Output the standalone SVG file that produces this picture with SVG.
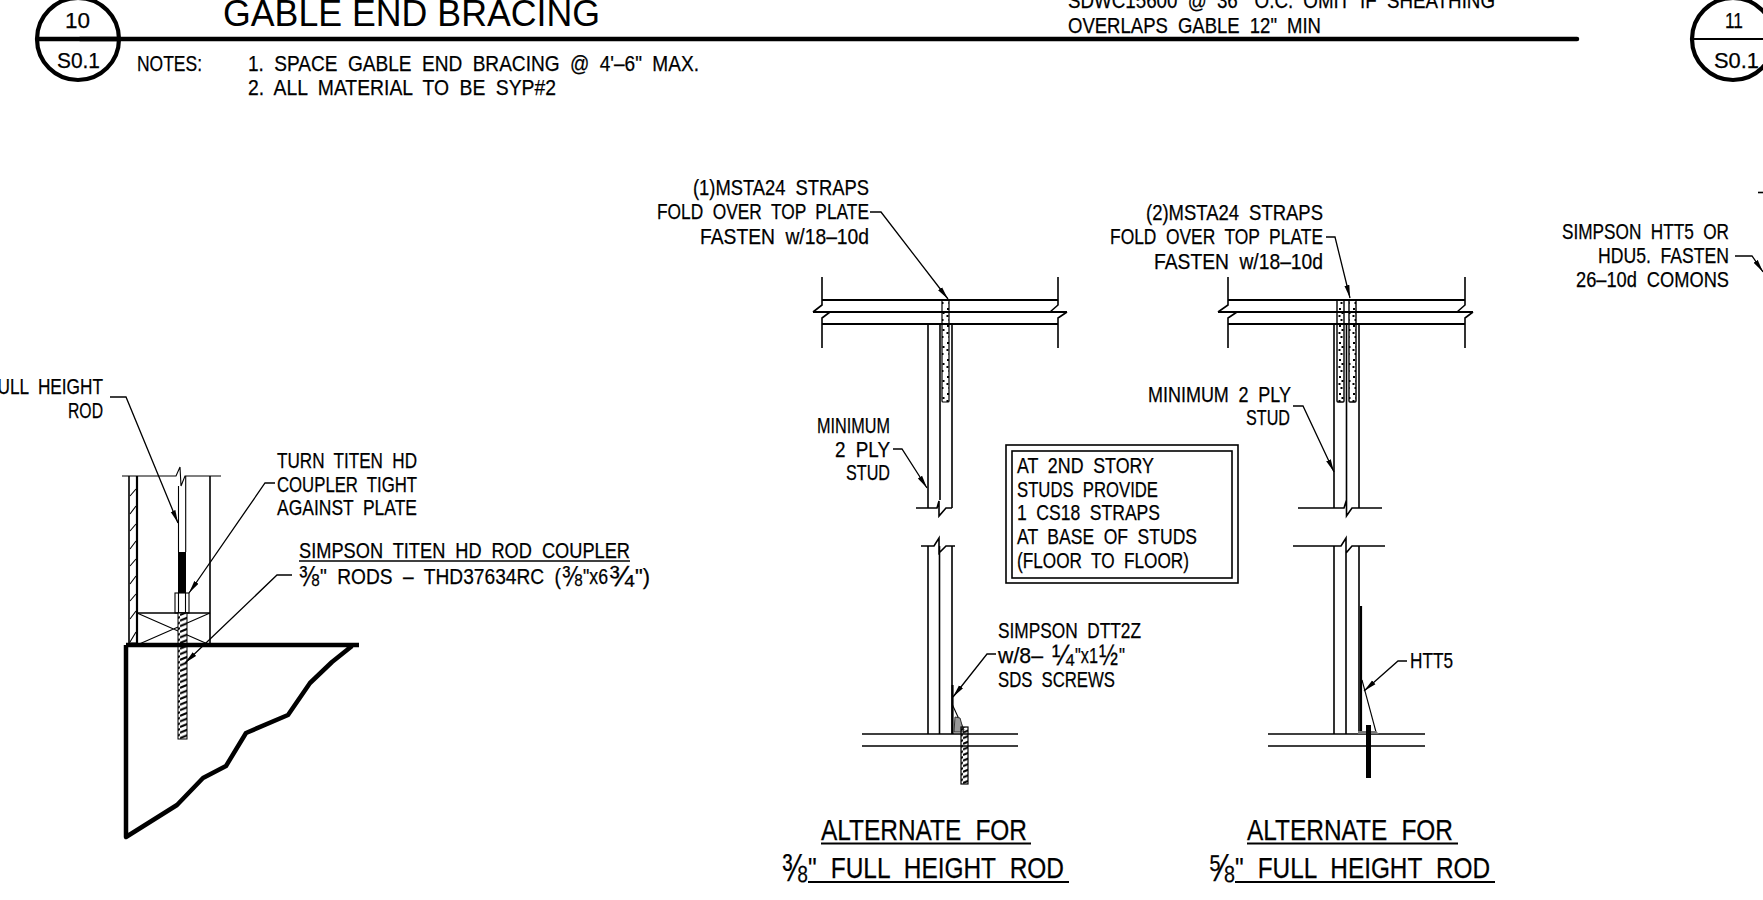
<svg xmlns="http://www.w3.org/2000/svg" width="1763" height="900" viewBox="0 0 1763 900">
<style>
text{font-family:"Liberation Sans",Arial,sans-serif;fill:#000;stroke:#000;stroke-width:.25;word-spacing:6px}
.t{font-size:22.5px}
.b{font-size:30px;word-spacing:9px}
.h{font-size:37px;word-spacing:0;stroke-width:0}
.f{font-size:29px}
.g{font-size:38px}
.l{fill:none;stroke:#000;stroke-width:1.6}
.n{fill:none;stroke:#000;stroke-width:1.1}
.m{fill:none;stroke:#000;stroke-width:2.2}
.k{fill:none;stroke:#000;stroke-width:4.2}
.x{fill:none;stroke:#000;stroke-width:4.5}
.a{fill:none;stroke:#000;stroke-width:1.3;marker-end:url(#ah)}
</style>
<defs>
<marker id="ah" markerUnits="userSpaceOnUse" markerWidth="15" markerHeight="7" refX="13" refY="3" orient="auto"><path d="M0 0.500 L13 3 L0 5.500Z" fill="#000"/></marker>
<pattern id="th" width="9" height="5.6" patternUnits="userSpaceOnUse"><path d="M0 4.6 L9 1" stroke="#000" stroke-width="2" fill="none"/></pattern>
<pattern id="dots" width="7" height="17" patternUnits="userSpaceOnUse"><rect x="2" y="2" width="2" height="2" fill="#000"/><rect x="4.5" y="6" width="2" height="2" fill="#000"/><rect x="1.5" y="9" width="2" height="2" fill="#000"/><rect x="3.5" y="13" width="2" height="2" fill="#000"/></pattern>
</defs>
<rect width="1763" height="900" fill="#fff"/>

<g id="title-bar">
<path class="x" d="M80 39 H1577" stroke-linecap="round"/>
<text class="h" x="223" y="26" textLength="377" lengthAdjust="spacingAndGlyphs">GABLE END BRACING</text>
<text class="t" x="1068" y="8" textLength="427" lengthAdjust="spacingAndGlyphs">SDWC15600 @ 36" O.C. OMIT IF SHEATHING</text>
<text class="t" x="1068" y="33" textLength="253" lengthAdjust="spacingAndGlyphs">OVERLAPS GABLE 12" MIN</text>
</g>
<g id="marker-10">
<circle class="k" cx="78" cy="39" r="41"/>
<path class="x" d="M37 39 H119"/>
<text class="t" x="65" y="28" textLength="25" lengthAdjust="spacingAndGlyphs">10</text>
<text class="t" x="57" y="68" textLength="43" lengthAdjust="spacingAndGlyphs">S0.1</text>
</g>
<g id="marker-11">
<circle class="k" cx="1733" cy="39" r="41"/>
<path class="m" d="M1692 39 H1763"/>
<text class="t" x="1725" y="28" textLength="18" lengthAdjust="spacingAndGlyphs">11</text>
<text class="t" x="1714" y="68" textLength="45" lengthAdjust="spacingAndGlyphs">S0.1</text>
</g>
<g id="notes">
<text class="t" x="137" y="71" textLength="65" lengthAdjust="spacingAndGlyphs">NOTES:</text>
<text class="t" x="248" y="71" textLength="451" lengthAdjust="spacingAndGlyphs">1. SPACE GABLE END BRACING @ 4'–6" MAX.</text>
<text class="t" x="248" y="95" textLength="308" lengthAdjust="spacingAndGlyphs">2. ALL MATERIAL TO BE SYP#2</text>
</g>

<g id="rod-detail">
<path class="n" d="M122 476 H176 L180 467 L181 486 L185 476 H221"/>
<path class="l" d="M129 476 V643 M210 476 V645"/>
<path class="m" d="M137 476 V645"/>
<path class="n" d="M129 643 H137 M130 496 L136 489 M130 514 L136 506 M130 531 L136 524 M130 549 L136 541 M130 566 L136 559 M130 584 L136 576 M130 601 L136 594 M130 619 L136 611 M130 642 L136 632"/>
<path class="n" d="M178.500 486 V552 M185.700 476 V552"/>
<rect x="178" y="552" width="8" height="41" fill="#000"/>
<rect class="n" x="175" y="593" width="14" height="20" fill="none"/>
<path class="n" d="M178.500 593 V613 M185.500 593 V613"/>
<path class="l" d="M137 613 H210"/>
<path class="n" d="M137 613 L210 645 M137 645 L210 613"/>
<rect x="178" y="613" width="9" height="126" fill="#fff"/>
<rect x="178" y="613" width="9" height="126" fill="url(#th)" stroke="#000" stroke-width="1"/>
<path class="x" d="M126 645 H359 M352 646 L332 662 L310 683 L288 715 L246 733 L226 766 L203 778 L177 805 L126 837 V645" stroke-linejoin="round"/>
<text class="t" x="-13" y="394" textLength="116" lengthAdjust="spacingAndGlyphs">FULL HEIGHT</text>
<text class="t" x="68" y="418" textLength="35" lengthAdjust="spacingAndGlyphs">ROD</text>
<text class="t" x="277" y="468" textLength="140" lengthAdjust="spacingAndGlyphs">TURN TITEN HD</text>
<text class="t" x="277" y="492" textLength="140" lengthAdjust="spacingAndGlyphs">COUPLER TIGHT</text>
<text class="t" x="277" y="515" textLength="140" lengthAdjust="spacingAndGlyphs">AGAINST PLATE</text>
<text class="t" x="299" y="558" textLength="331" lengthAdjust="spacingAndGlyphs">SIMPSON TITEN HD ROD COUPLER</text>
<path class="l" d="M299 561 H630"/>
<text class="f" x="299" y="586" textLength="20" lengthAdjust="spacingAndGlyphs">⅜</text>
<text class="t" x="320" y="584" textLength="241" lengthAdjust="spacingAndGlyphs">" RODS – THD37634RC (</text>
<text class="f" x="562" y="586" textLength="20" lengthAdjust="spacingAndGlyphs">⅜</text>
<text class="t" x="583" y="584" textLength="25" lengthAdjust="spacingAndGlyphs">"x6</text>
<text class="f" x="609" y="586" textLength="25" lengthAdjust="spacingAndGlyphs">¾</text>
<text class="t" x="635" y="584" textLength="15" lengthAdjust="spacingAndGlyphs">")</text>
</g>

<g id="alternate-3-8">
<path class="l" d="M822 277 V305 L813 312 M830 312 L822 318 V348 M1058 277 V305 L1050 312 M1067 312 L1058 318 V348"/>
<path class="m" d="M822 300 H1058 M813 312 H1067 M822 324 H1058"/>
<path class="l" d="M928 324 V508 M940 324 V500 M952 324 V508 M916 508 H928 L937 508 L939 501 V516 L946 508 H952"/>
<rect x="942" y="300" width="7" height="102" fill="url(#dots)" stroke="#000" stroke-width="1.2" rx="1"/>
<text class="t" x="693" y="195" textLength="176" lengthAdjust="spacingAndGlyphs">(1)MSTA24 STRAPS</text>
<text class="t" x="657" y="219" textLength="212" lengthAdjust="spacingAndGlyphs">FOLD OVER TOP PLATE</text>
<text class="t" x="700" y="244" textLength="169" lengthAdjust="spacingAndGlyphs">FASTEN w/18–10d</text>
<text class="t" x="817" y="433" textLength="73" lengthAdjust="spacingAndGlyphs">MINIMUM</text>
<text class="t" x="835" y="457" textLength="55" lengthAdjust="spacingAndGlyphs">2 PLY</text>
<text class="t" x="846" y="480" textLength="44" lengthAdjust="spacingAndGlyphs">STUD</text>
<path class="l" d="M921 546 H934 L939 538 V553 L946 546 H955 M928 546 V734 M939.500 546 V734 M952 546 V734"/>
<path class="l" d="M862 734 H1018 M862 746 H1018"/>
<path class="m" d="M952.500 685 V734"/>
<path class="n" d="M952.500 705 L964 730"/>
<path d="M955 717 L960 718 L964 732 H954Z" fill="#999" stroke="#333" stroke-width="1"/>
<rect x="961" y="727" width="7" height="57" fill="url(#th)" stroke="#000" stroke-width="1.2"/>
<text class="t" x="998" y="638" textLength="143" lengthAdjust="spacingAndGlyphs">SIMPSON DTT2Z</text>
<text class="t" x="998" y="663" textLength="45" lengthAdjust="spacingAndGlyphs">w/8–</text>
<text class="f" x="1052" y="665" textLength="22" lengthAdjust="spacingAndGlyphs">¼</text>
<text class="t" x="1075" y="663" textLength="23" lengthAdjust="spacingAndGlyphs">"x1</text>
<text class="f" x="1099" y="665" textLength="19" lengthAdjust="spacingAndGlyphs">½</text>
<text class="t" x="1119" y="663" textLength="6" lengthAdjust="spacingAndGlyphs">"</text>
<text class="t" x="998" y="687" textLength="117" lengthAdjust="spacingAndGlyphs">SDS SCREWS</text>
<text class="b" x="821" y="840" textLength="206" lengthAdjust="spacingAndGlyphs">ALTERNATE FOR</text>
<path class="m" d="M821 843.500 H1031"/>
<text class="g" x="782" y="881" textLength="25" lengthAdjust="spacingAndGlyphs">⅜</text>
<text class="b" x="808" y="878" textLength="256" lengthAdjust="spacingAndGlyphs">" FULL HEIGHT ROD</text>
<path class="m" d="M808 882 H1069"/>
</g>

<g id="note-box">
<rect class="l" x="1006" y="445" width="232" height="138"/>
<rect class="l" x="1012" y="451" width="220" height="127"/>
<text class="t" x="1017" y="473" textLength="137" lengthAdjust="spacingAndGlyphs">AT 2ND STORY</text>
<text class="t" x="1017" y="497" textLength="141" lengthAdjust="spacingAndGlyphs">STUDS PROVIDE</text>
<text class="t" x="1017" y="520" textLength="143" lengthAdjust="spacingAndGlyphs">1 CS18 STRAPS</text>
<text class="t" x="1017" y="544" textLength="180" lengthAdjust="spacingAndGlyphs">AT BASE OF STUDS</text>
<text class="t" x="1017" y="568" textLength="172" lengthAdjust="spacingAndGlyphs">(FLOOR TO FLOOR)</text>
</g>

<g id="alternate-5-8">
<path class="l" d="M1228 277 V305 L1218 312 M1237 312 L1228 318 V348 M1465 277 V305 L1457 312 M1473 312 L1465 318 V348"/>
<path class="m" d="M1228 300 H1465 M1218 312 H1473 M1228 324 H1465"/>
<path class="l" d="M1334 324 V508 M1346.500 324 V500 M1359 324 V508 M1298 508 H1344 L1346.500 500 V516 L1352 508 H1382"/>
<rect x="1337" y="300" width="7" height="102" fill="url(#dots)" stroke="#000" stroke-width="1.4" rx="1"/>
<rect x="1349" y="300" width="7" height="102" fill="url(#dots)" stroke="#000" stroke-width="1.4" rx="1"/>
<text class="t" x="1146" y="220" textLength="177" lengthAdjust="spacingAndGlyphs">(2)MSTA24 STRAPS</text>
<text class="t" x="1110" y="244" textLength="213" lengthAdjust="spacingAndGlyphs">FOLD OVER TOP PLATE</text>
<text class="t" x="1154" y="269" textLength="169" lengthAdjust="spacingAndGlyphs">FASTEN w/18–10d</text>
<text class="t" x="1148" y="402" textLength="143" lengthAdjust="spacingAndGlyphs">MINIMUM 2 PLY</text>
<text class="t" x="1246" y="425" textLength="44" lengthAdjust="spacingAndGlyphs">STUD</text>
<path class="l" d="M1293 546 H1341 L1346 538 V553 L1352 546 H1385 M1334 546 V734 M1346 546 V734 M1359 546 V734"/>
<path class="l" d="M1268 734 H1425 M1268 746 H1425"/>
<path class="m" d="M1361 606 V734"/>
<path class="n" d="M1362 680 L1376 732"/>
<path d="M1358 734 V731 H1376 L1379 734Z" fill="#777"/>
<rect x="1366" y="725" width="5" height="53" fill="#000"/>
<text class="t" x="1410" y="668" textLength="43" lengthAdjust="spacingAndGlyphs">HTT5</text>
<text class="b" x="1247" y="840" textLength="206" lengthAdjust="spacingAndGlyphs">ALTERNATE FOR</text>
<path class="m" d="M1247 843.500 H1458"/>
<text class="g" x="1208" y="881" textLength="26" lengthAdjust="spacingAndGlyphs">⅝</text>
<text class="b" x="1235" y="878" textLength="255" lengthAdjust="spacingAndGlyphs">" FULL HEIGHT ROD</text>
<path class="m" d="M1235 882 H1495"/>
</g>

<g id="alternate-right-edge">
<text class="t" x="1562" y="239" textLength="167" lengthAdjust="spacingAndGlyphs">SIMPSON HTT5 OR</text>
<text class="t" x="1598" y="263" textLength="131" lengthAdjust="spacingAndGlyphs">HDU5. FASTEN</text>
<text class="t" x="1576" y="287" textLength="153" lengthAdjust="spacingAndGlyphs">26–10d COMONS</text>
<path class="l" d="M1758 192.500 H1763"/>
</g>

<g id="connectors">
<polyline class="a" points="110,397 126,397 178,523"/>
<polyline class="a" points="275,483 265,483 189,593"/>
<polyline class="a" points="292,575 277,575 185,663"/>
<polyline class="a" points="870,212 881,212 948,299"/>
<polyline class="a" points="893,449 902,449 927,488"/>
<polyline class="a" points="996,654 987,654 953,697"/>
<polyline class="a" points="1326,237 1335,237 1350,298"/>
<polyline class="a" points="1293,406 1303,406 1334,472"/>
<polyline class="a" points="1407,661 1398,661 1364,691"/>
<polyline class="a" points="1735,256 1752,256 1763,272"/>
</g>
</svg>
